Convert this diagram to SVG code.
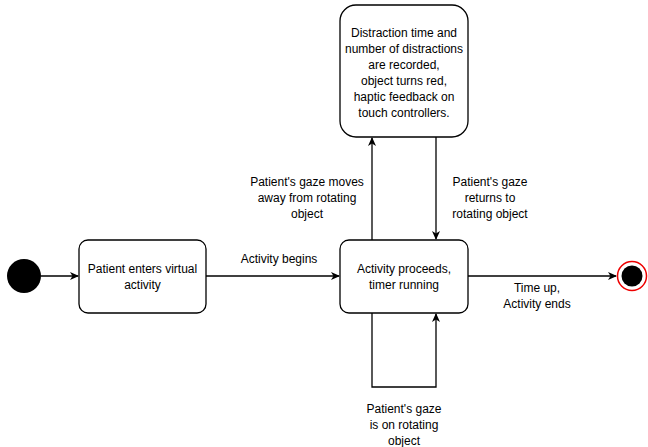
<svg xmlns="http://www.w3.org/2000/svg" width="648" height="447" viewBox="0 0 648 447">
<style>
.box{fill:#fff;stroke:#000;stroke-width:1.3}
.ln{fill:none;stroke:#000;stroke-width:1.3}
text{font-family:"Liberation Sans",Arial,sans-serif;font-size:12px;fill:#000;text-anchor:middle}
</style>
<defs>
<marker id="ah" markerWidth="10" markerHeight="10" refX="8" refY="5" orient="auto" markerUnits="userSpaceOnUse">
<path d="M0,1 L9,5 L0,9 L2.5,5 Z" fill="#000"/>
</marker>
</defs>
<rect width="648" height="447" fill="#fff"/>
<g id="connectors">
<line class="ln" x1="41" y1="276" x2="78" y2="276" marker-end="url(#ah)"/>
<line class="ln" x1="206" y1="276" x2="339" y2="276" marker-end="url(#ah)"/>
<line class="ln" x1="468" y1="276" x2="616" y2="276" marker-end="url(#ah)"/>
<line class="ln" x1="372" y1="240" x2="372" y2="138" marker-end="url(#ah)"/>
<line class="ln" x1="436" y1="137" x2="436" y2="239" marker-end="url(#ah)"/>
<polyline class="ln" points="372,313 372,387 436,387 436,314" marker-end="url(#ah)"/>
<text x="279" y="263">Activity begins</text>
<text x="307" y="186">Patient's gaze moves</text>
<text x="307" y="202">away from rotating</text>
<text x="307" y="218">object</text>
<text x="490" y="186">Patient's gaze</text>
<text x="490" y="202">returns to</text>
<text x="490" y="218">rotating object</text>
<text x="537" y="292">Time up,</text>
<text x="537" y="308">Activity ends</text>
<text x="404" y="413">Patient's gaze</text>
<text x="404" y="429">is on rotating</text>
<text x="404" y="445">object</text>
</g>
<g id="start">
<circle cx="24" cy="276" r="17" fill="#000"/>
</g>
<g id="enter">
<rect class="box" x="79" y="240" width="127" height="73" rx="9"/>
<text x="142.5" y="273">Patient enters virtual</text>
<text x="142.5" y="289">activity</text>
</g>
<g id="proceed">
<rect class="box" x="340" y="240" width="128" height="73" rx="9"/>
<text x="404" y="273">Activity proceeds,</text>
<text x="404" y="289">timer running</text>
</g>
<g id="distraction">
<rect class="box" x="340" y="5" width="128" height="132" rx="16"/>
<text x="404" y="37">Distraction time and</text>
<text x="404" y="53">number of distractions</text>
<text x="404" y="69">are recorded,</text>
<text x="404" y="85">object turns red,</text>
<text x="404" y="101">haptic feedback on</text>
<text x="404" y="117">touch controllers.</text>
</g>
<g id="end">
<circle cx="632" cy="276" r="14.5" fill="#fff" stroke="#e00" stroke-width="1.5"/>
<circle cx="632" cy="276" r="10.5" fill="#000"/>
</g>
</svg>
